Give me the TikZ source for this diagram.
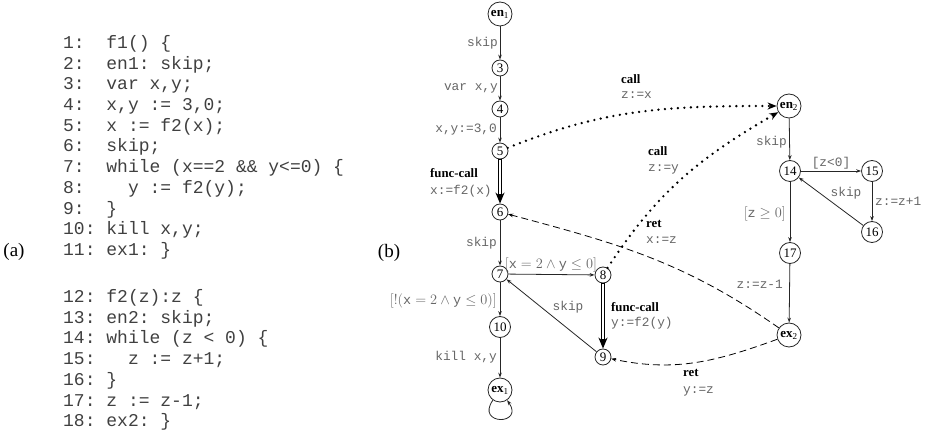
\documentclass[tikz,border=0pt]{standalone}
\usepackage{fontspec}
\setmainfont{Liberation Serif}
\setmonofont{Liberation Mono}
\usetikzlibrary{arrows.meta}
\begin{document}
\begin{tikzpicture}[x=1bp,y=1bp,
  code/.style={anchor=base west, inner sep=0pt, font=\fontsize{18bp}{20bp}\selectfont\ttfamily, text=black!75},
  st/.style={circle, draw=black!85, line width=0.8bp, inner sep=0pt, minimum size=16bp, font=\fontsize{13bp}{15bp}\selectfont},
  stw/.style={st, minimum size=21bp},
  stb/.style={st, minimum size=24bp},
  lab/.style={inner sep=0pt, font=\fontsize{12.8bp}{15bp}\selectfont\ttfamily, text=black!60},
  mlab/.style={inner sep=0pt, font=\fontsize{13.5bp}{15bp}\selectfont, text=black!60},
  blab/.style={inner sep=0pt, font=\fontsize{12.8bp}{15bp}\selectfont\bfseries, text=black},
  arr/.style={draw=black!85, line width=0.8bp, -{Stealth[length=5bp, width=3.6bp]}},
  dblout/.style={draw=black, line width=3.6bp, -{Stealth[length=11bp 0, width=9bp 0]}},
  dblin/.style={draw=white, line width=1.5bp, shorten >=10bp, shorten <=1bp},
  dots/.style={draw=black, line width=2.6bp, line cap=round, dash pattern=on 0bp off 6.5bp, -{Stealth[length=9bp 0, width=7bp 0]}},
  dsh/.style={draw=black, line width=0.8bp, dash pattern=on 7bp off 4bp, -{Stealth[length=5bp, width=3.6bp]}},
  big/.style={font=\fontsize{19bp}{22bp}\selectfont}
]
\useasboundingbox (0,0) rectangle (931,-438);

% ---- (a) code listing ----
\node[big] (pa) at (14,-252) {(a)};
\node[code] (c1) at (63,-48.5) {1:~~f1()~\{};
\node[code] (c2) at (63,-69.2) {2:~~en1:~skip;};
\node[code] (c3) at (63,-89.9) {3:~~var~x,y;};
\node[code] (c4) at (63,-110.6) {4:~~x,y~:=~3,0;};
\node[code] (c5) at (63,-131.3) {5:~~x~:=~f2(x);};
\node[code] (c6) at (63,-152.0) {6:~~skip;};
\node[code] (c7) at (63,-172.7) {7:~~while~(x==2~\&\&~y<=0)~\{};
\node[code] (c8) at (63,-193.4) {8:~~~~y~:=~f2(y);};
\node[code] (c9) at (63,-214.1) {9:~~\}};
\node[code] (c10) at (63,-234.8) {10:~kill~x,y;};
\node[code] (c11) at (63,-255.5) {11:~ex1:~\}};
\node[code] (c12) at (63,-302.5) {12:~f2(z):z~\{};
\node[code] (c13) at (63,-323.2) {13:~en2:~skip;};
\node[code] (c14) at (63,-343.9) {14:~while~(z~<~0)~\{};
\node[code] (c15) at (63,-364.6) {15:~~~z~:=~z+1;};
\node[code] (c16) at (63,-385.3) {16:~\}};
\node[code] (c17) at (63,-406.0) {17:~z~:=~z-1;};
\node[code] (c18) at (63,-426.7) {18:~ex2:~\}};

% ---- (b) graph ----
\node[big] (pb) at (389,-253) {(b)};

\node[stb] (en1) at (500,-14) {\textbf{en}\textsubscript{1}};
\node[st] (n3) at (500,-68) {3};
\node[st] (n4) at (500,-109) {4};
\node[st] (n5) at (500,-151) {5};
\node[st] (n6) at (500,-212) {6};
\node[st] (n7) at (500,-274) {7};
\node[st] (n8) at (603,-275) {8};
\node[stw] (n10) at (500,-327) {10};
\node[st] (n9) at (603,-357) {9};
\node[stb] (ex1) at (500,-390) {\textbf{ex}\textsubscript{1}};

\node[stb] (en2) at (789,-106) {\textbf{en}\textsubscript{2}};
\node[stw] (n14) at (790,-171) {14};
\node[stw] (n15) at (872,-171) {15};
\node[stw] (n16) at (872,-232) {16};
\node[stw] (n17) at (790,-253) {17};
\node[stb] (ex2) at (789,-335) {\textbf{ex}\textsubscript{2}};

% solid edges
\draw[arr] (en1) -- (n3);
\draw[arr] (n3) -- (n4);
\draw[arr] (n4) -- (n5);
\draw[arr] (n6) -- (n7);
\draw[arr] (n7) -- (n8);
\draw[arr] (n7) -- (n10);
\draw[arr] (n10) -- (ex1);
\draw[arr] (n9) -- (n7);
\draw[arr] (ex1) to[out=-125,in=-55,min distance=31bp] (ex1);
\draw[arr] (en2) -- (n14);
\draw[arr] (n14) -- (n15);
\draw[arr] (n15) -- (n16);
\draw[arr] (n16) -- (n14);
\draw[arr] (n14) -- (n17);
\draw[arr] (n17) -- (ex2);

% func-call double edges
\draw[dblout] (n5) -- (n6);
\draw[dblin] (n5) -- (n6);
\draw[dblout] (n8) -- (n9);
\draw[dblin] (n8) -- (n9);

% call / ret edges
\draw[dots] (n5) to[out=22,in=180] (en2);
\draw[dots] (n8) to[out=57,in=210] (en2);
\draw[dsh] (ex2) to[out=145,in=-15] (n6);
\draw[dsh] (ex2) to[out=200,in=-12] (n9);

% labels
\node[lab, anchor=base east] (l1) at (498,-47) {skip};
\node[lab, anchor=base east] (l2) at (498,-91) {var x,y};
\node[lab, anchor=base east] (l3) at (497,-133) {x,y:=3,0};
\node[blab, anchor=base west] (l4a) at (430,-177.5) {func-call};
\node[lab, anchor=base west] (l4b) at (430,-195) {x:=f2(x)};
\node[lab, anchor=base east] (l5) at (497,-247) {skip};
\node[mlab, anchor=base] (l6) at (551,-268.5) {$[\mathtt{x}=2\wedge\mathtt{y}\leq 0]$};
\node[mlab, anchor=base east] (l7) at (497,-304.5) {$[!(\mathtt{x}=2\wedge\mathtt{y}\leq 0)]$};
\node[lab, anchor=base] (l8) at (568,-311) {skip};
\node[blab, anchor=base west] (l9a) at (611,-311.5) {func-call};
\node[lab, anchor=base west] (l9b) at (611,-327) {y:=f2(y)};
\node[lab, anchor=base east] (l10) at (497,-361) {kill x,y};
\node[blab, anchor=base west] (l11a) at (621,-83.5) {call};
\node[lab, anchor=base west] (l11b) at (621,-99) {z:=x};
\node[blab, anchor=base west] (l12a) at (648,-155.5) {call};
\node[lab, anchor=base west] (l12b) at (648,-172) {z:=y};
\node[blab, anchor=base west] (l13a) at (646,-227.5) {ret};
\node[lab, anchor=base west] (l13b) at (646,-244) {x:=z};
\node[blab, anchor=base west] (l14a) at (683,-376.5) {ret};
\node[lab, anchor=base west] (l14b) at (683,-393) {y:=z};
\node[lab, anchor=base east] (l15) at (787,-146) {skip};
\node[lab, anchor=base] (l16) at (831,-167) {[z<0]};
\node[lab, anchor=base] (l17) at (846,-197) {skip};
\node[lab, anchor=base west] (l18) at (875,-206) {z:=z+1};
\node[mlab, anchor=base east] (l19) at (786,-217.5) {$[\mathtt{z}\geq 0]$};
\node[lab, anchor=base east] (l20) at (783,-289) {z:=z-1};
\end{tikzpicture}
\end{document}
